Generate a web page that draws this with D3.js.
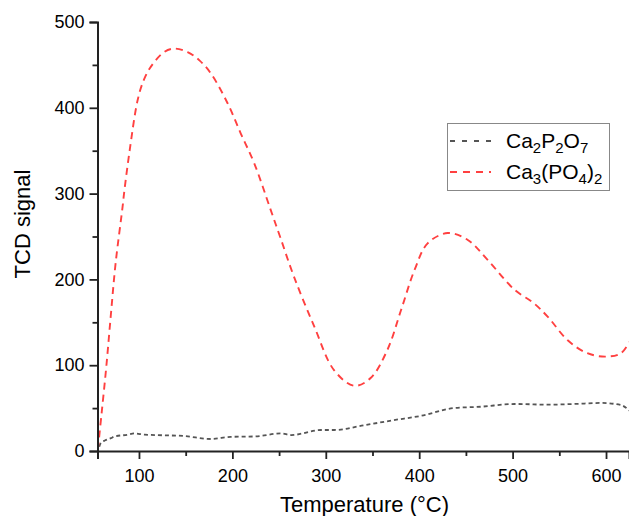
<!DOCTYPE html>
<html>
<head>
<meta charset="utf-8">
<script src="https://cdn.jsdelivr.net/npm/d3@7/dist/d3.min.js"></script>
<style>
  html, body { margin: 0; padding: 0; background: #fff; }
  svg { display: block; }
  text { font-family: "Liberation Sans", Arial, sans-serif; fill: #000; }
</style>
</head>
<body>
<svg id="chart" width="629" height="516"></svg>
<script>
// ---- data ----
const xTicks = [100, 200, 300, 400, 500, 600];
const xMinorTicks = [150, 250, 350, 450, 550];
const yTicks = [0, 100, 200, 300, 400, 500];
const yMinorTicks = [50, 150, 250, 350, 450];

const ca3Temp = [56, 60, 65, 70, 75, 82.5, 84, 90, 98.6, 105, 112.8, 127, 137.8, 152, 165, 177, 195, 209, 223.5, 241, 251.6, 266, 287.7, 309, 330.5, 348, 366, 380.5, 395, 409, 430.5, 452, 473, 502, 523, 538, 559, 580, 600, 616, 625];
const ca3Signal = [2, 44, 98, 160, 219, 285, 300, 350, 409, 432, 448, 465, 469, 465, 455, 440, 405, 370, 335, 281, 248, 203, 145, 94, 76, 85, 118, 164, 211, 242, 254, 246, 223, 188, 172, 156, 129, 114, 110, 114, 127];

const ca2Temp = [57.5, 59, 64, 70, 74, 88, 95, 106, 120, 148, 177, 198, 224, 252, 263, 295, 309, 341, 373, 402, 437, 466, 502, 538, 566, 595, 616, 625];
const ca2Signal = [5, 9, 12.5, 15, 17, 19, 20.5, 19, 18.5, 17.5, 14, 16.5, 17, 20.5, 18.6, 24.5, 24.5, 30, 36, 41, 50, 51.6, 54.8, 54, 54.8, 56, 53.6, 47];

const svg = d3.select("#chart");

const x = d3.scaleLinear().domain([55.6, 624.6]).range([97.5, 629]);
const y = d3.scaleLinear().domain([0, 500]).range([451, 22]);

// ---- series ----
const ca3 = ca3Temp.map((t, i) => [t, ca3Signal[i]]);
const ca2 = ca2Temp.map((t, i) => [t, ca2Signal[i]]);

const lineSmooth = d3.line().x(d => x(d[0])).y(d => y(d[1])).curve(d3.curveCatmullRom.alpha(0.5));
const lineMono = d3.line().x(d => x(d[0])).y(d => y(d[1])).curve(d3.curveMonotoneX);

svg.append("path").datum(ca2)
  .attr("d", lineMono)
  .attr("fill", "none")
  .attr("stroke", "#555")
  .attr("stroke-width", 1.8)
  .attr("stroke-dasharray", "4,3");

svg.append("path").datum(ca3)
  .attr("d", lineSmooth)
  .attr("fill", "none")
  .attr("stroke", "#ff4040")
  .attr("stroke-width", 1.9)
  .attr("stroke-dasharray", "7,5");

// ---- axes ----
const yAxis = svg.append("g").attr("transform", "translate(97.5,0)");
yAxis.call(d3.axisLeft(y).tickValues(yTicks).tickSize(8).tickPadding(5).tickFormat(d3.format("d")));
const yMinor = svg.append("g").attr("transform", "translate(97.5,0)");
yMinor.call(d3.axisLeft(y).tickValues(yMinorTicks).tickSize(5).tickFormat(""));

const xAxis = svg.append("g").attr("transform", "translate(0,451)");
xAxis.call(d3.axisBottom(x).tickValues(xTicks).tickSize(8).tickPadding(10).tickFormat(d3.format("d")));
const xMinor = svg.append("g").attr("transform", "translate(0,451)");
xMinor.call(d3.axisBottom(x).tickValues(xMinorTicks).tickSize(5).tickFormat(""));

svg.selectAll(".domain").attr("stroke", "#222").attr("stroke-width", 2);
yMinor.select(".domain").remove();
xMinor.select(".domain").remove();
svg.selectAll(".tick line").attr("stroke", "#222").attr("stroke-width", 1.8);
svg.selectAll(".tick text").style("font-size", "18px").style("font-family", "'Liberation Sans', Arial, sans-serif").attr("fill", "#000");

// ---- axis titles ----
svg.append("text")
  .attr("x", 364.5).attr("y", 512)
  .attr("text-anchor", "middle")
  .style("font-size", "22px")
  .text("Temperature (°C)");

svg.append("text")
  .attr("transform", "translate(30,224) rotate(-90)")
  .attr("text-anchor", "middle")
  .style("font-size", "22px")
  .text("TCD signal");

// ---- legend ----
const legend = svg.append("g");
legend.append("rect")
  .attr("x", 447.5).attr("y", 123.5).attr("width", 162).attr("height", 67)
  .attr("fill", "#fff").attr("stroke", "#888").attr("stroke-width", 1);

const legendItems = [
  { parts: [["Ca", 0], ["2", 1], ["P", 0], ["2", 1], ["O", 0], ["7", 1]], color: "#555", dash: "5,7", width: 1.8, cy: 141 },
  { parts: [["Ca", 0], ["3", 1], ["(PO", 0], ["4", 1], [")", 0], ["2", 1]], color: "#ff4040", dash: "7,6", width: 1.9, cy: 172 }
];
legendItems.forEach(item => {
  legend.append("line")
    .attr("x1", 450).attr("x2", 491).attr("y1", item.cy).attr("y2", item.cy)
    .attr("stroke", item.color).attr("stroke-width", item.width)
    .attr("stroke-dasharray", item.dash);
  const t = legend.append("text").attr("x", 506).attr("y", item.cy + 7).style("font-size", "21px");
  let prevSub = 0;
  item.parts.forEach(([s, sub]) => {
    const dy = sub && !prevSub ? 5 : (!sub && prevSub ? -5 : 0);
    t.append("tspan").attr("dy", dy).style("font-size", sub ? "15px" : "21px").text(s);
    prevSub = sub;
  });
});
</script>
</body>
</html>
